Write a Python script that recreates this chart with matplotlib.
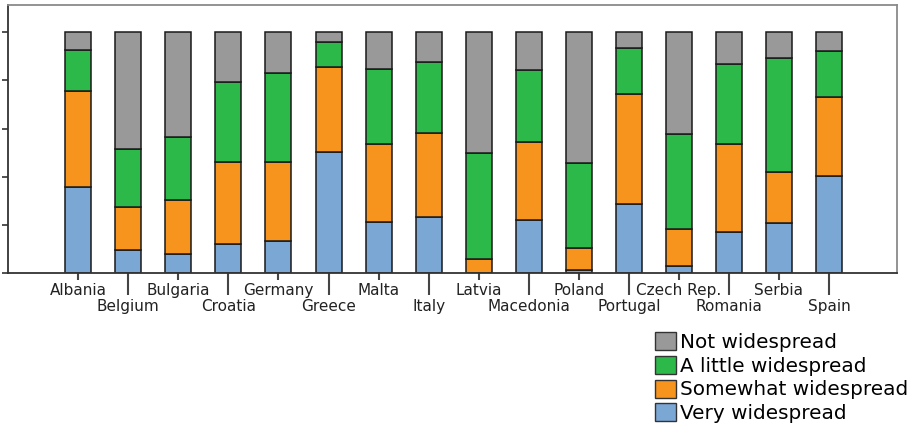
import matplotlib
matplotlib.use("Agg")
import matplotlib.pyplot as plt
from matplotlib.patches import Patch
import numpy as np

countries = ["Albania", "Belgium", "Bulgaria", "Croatia", "Germany", "Greece",
             "Malta", "Italy", "Latvia", "Macedonia", "Poland", "Portugal",
             "Czech Rep.", "Romania", "Serbia", "Spain"]

# cumulative boundaries (percent)
very = [35.7, 9.4, 7.7, 11.9, 13.4, 50.1, 21.3, 23.4, 0.0, 21.9, 1.2, 28.6, 3.0, 16.9, 20.9, 40.1]
very_plus_somewhat = [75.5, 27.4, 30.4, 46.2, 46.3, 85.5, 53.7, 58.1, 5.8, 54.6, 10.4, 74.3, 18.3, 53.7, 42.0, 72.9]
up_to_little = [92.8, 51.6, 56.3, 79.3, 83.0, 96.0, 84.8, 87.8, 49.7, 84.2, 45.5, 93.4, 57.7, 86.9, 89.4, 92.3]

very = np.array(very)
somewhat = np.array(very_plus_somewhat) - very
little = np.array(up_to_little) - np.array(very_plus_somewhat)
not_ws = 100 - np.array(up_to_little)

series = [
    ("Very widespread", very, "#7ba7d5"),
    ("Somewhat widespread", somewhat, "#f7941d"),
    ("A little widespread", little, "#2db84a"),
    ("Not widespread", not_ws, "#999999"),
]

fig = plt.figure(figsize=(9.19, 4.25), dpi=100)
ax = fig.add_axes([8 / 919, 1 - 273 / 425, (897 - 8) / 919, (273 - 5) / 425])

x = np.arange(len(countries))
bottom = np.zeros(len(countries))
for name, vals, color in series:
    ax.bar(x, vals, 0.52, bottom=bottom, color=color, edgecolor="#1a1a1a",
           linewidth=1.1, label=name)
    bottom += vals

ax.set_xlim(-1.405, 16.36)
ax.set_ylim(0, 111.3)
ax.set_yticks([0, 20, 40, 60, 80, 100])
ax.set_yticklabels([])
ax.tick_params(axis="y", length=4, width=1.2, color="#333333")

# staggered labels: even ones on the upper row (major), odd ones lower (minor)
ax.set_xticks(x[::2])
ax.set_xticklabels(countries[::2], fontsize=11, color="#222222")
ax.set_xticks(x[1::2], minor=True)
ax.set_xticklabels(countries[1::2], minor=True, fontsize=11, color="#222222")
ax.tick_params(axis="x", which="major", length=5, pad=2.5, width=1.5, color="#444444")
ax.tick_params(axis="x", which="minor", length=16, pad=2.5, width=1.5, color="#444444")

for side in ["left", "bottom"]:
    ax.spines[side].set_color("#333333")
    ax.spines[side].set_linewidth(1.3)
for side in ["top", "right"]:
    ax.spines[side].set_color("#8a8a8a")
    ax.spines[side].set_linewidth(1.3)

handles = [Patch(facecolor=c, edgecolor="#333333", linewidth=1.0) for _, _, c in series[::-1]]
labels = [n for n, _, _ in series[::-1]]
fig.legend(handles, labels, loc="upper left", bbox_to_anchor=(655 / 919, 1 - 332 / 425),
           frameon=False, fontsize=14.4, handlelength=1.05, handleheight=1.0,
           handletextpad=0.2, labelspacing=0.2, borderpad=0, borderaxespad=0)

fig.savefig("out.png", dpi=100)
